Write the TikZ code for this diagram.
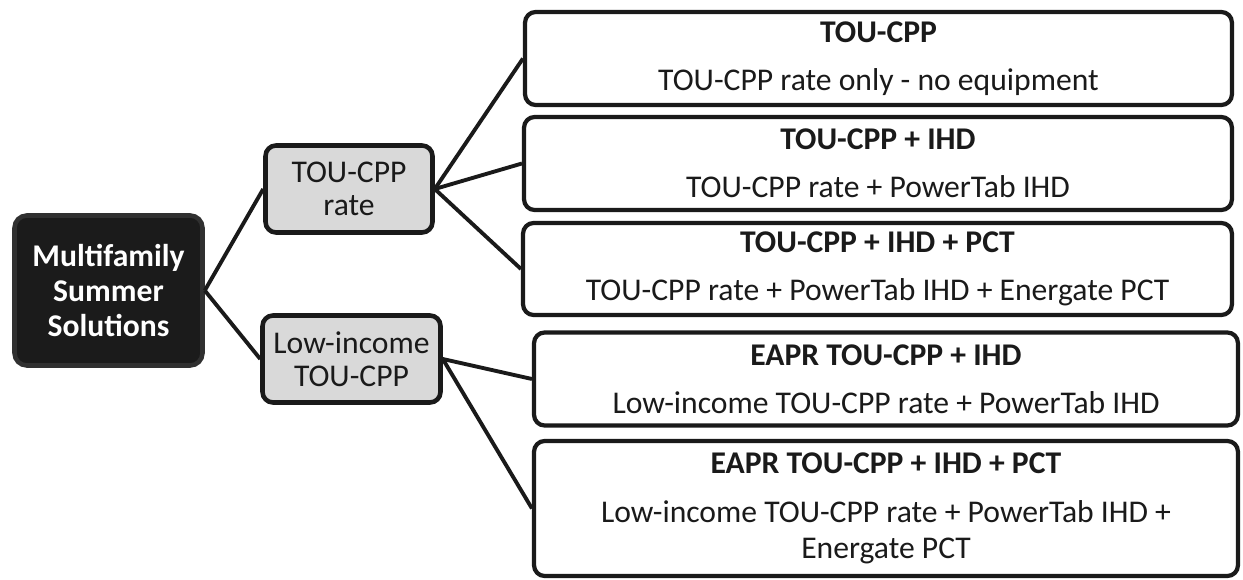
\documentclass[tikz,border=0pt]{standalone}
\usepackage{fontspec}
\setmainfont{Carlito}
\usepackage{xcolor}
\usetikzlibrary{positioning}

\definecolor{ink}{HTML}{1A1A1A}
\definecolor{rootfill}{HTML}{1B1B1B}
\definecolor{rootedge}{HTML}{303030}
\definecolor{midfill}{HTML}{D9D9D9}

\begin{document}
\begin{tikzpicture}[x=0.02cm, y=-0.02cm,
    every node/.style={font=\fontsize{18}{22}\selectfont, align=center, inner sep=0pt},
    root/.style={draw=rootedge, line width=2.6pt, fill=rootfill, rounded corners=7pt, text=white, font=\fontsize{18}{20}\selectfont\bfseries, minimum width=3.76cm, minimum height=3cm},
    branch/.style={draw=ink, line width=2.6pt, fill=midfill, rounded corners=6pt, text=ink, font=\fontsize{18}{19}\selectfont, minimum height=1.74cm},
    option/.style={draw=ink, line width=2.4pt, fill=white, rounded corners=6pt, text=ink, font=\fontsize{18}{20.5}\selectfont, minimum height=1.86cm, execute at begin node=\rule{0pt}{16pt}},
    link/.style={draw=ink, line width=2.2pt},
]
\useasboundingbox (0,0) rectangle (1243,580);
% root and the two rate branches
\node[root] (mss) at (108.5,290.5) {Multifamily\\Summer\\Solutions};
\node[branch, minimum width=3.34cm] (rate) at (349,189) {TOU-CPP\\rate};
\node[branch, minimum width=3.56cm] (lowinc) at (351.5,359) {Low-income\\TOU-CPP};
% options
\node[option, minimum width=14.14cm] (opt1) at (878.5,58.5) {\textbf{TOU-CPP}\\[7pt]TOU-CPP rate only - no equipment};
\node[option, minimum width=14.16cm] (opt2) at (878,163.5) {\textbf{TOU-CPP + IHD}\\[7pt]TOU-CPP rate + PowerTab IHD};
\node[option, minimum width=14.18cm, minimum height=1.84cm] (opt3) at (877.5,269) {\textbf{TOU-CPP + IHD + PCT}\\[7pt]TOU-CPP rate + PowerTab IHD + Energate PCT};
\node[option, minimum width=14.08cm] (opt4) at (886,379) {\textbf{EAPR TOU-CPP + IHD}\\[7pt]Low-income TOU-CPP rate + PowerTab IHD};
\node[option, minimum width=14.08cm, minimum height=2.7cm] (opt5) at (886,508.5) {\textbf{EAPR TOU-CPP + IHD + PCT}\\[7pt]Low-income TOU-CPP rate + PowerTab IHD +\\Energate PCT};
% connectors
\draw[link] (mss.east) -- (rate.west);
\draw[link] (mss.east) -- (lowinc.west);
\draw[link] (rate.east) -- (opt1.west);
\draw[link] (rate.east) -- (opt2.west);
\draw[link] (rate.east) -- (opt3.west);
\draw[link] (lowinc.east) -- (opt4.west);
\draw[link] (lowinc.east) -- (opt5.west);
\end{tikzpicture}
\end{document}
